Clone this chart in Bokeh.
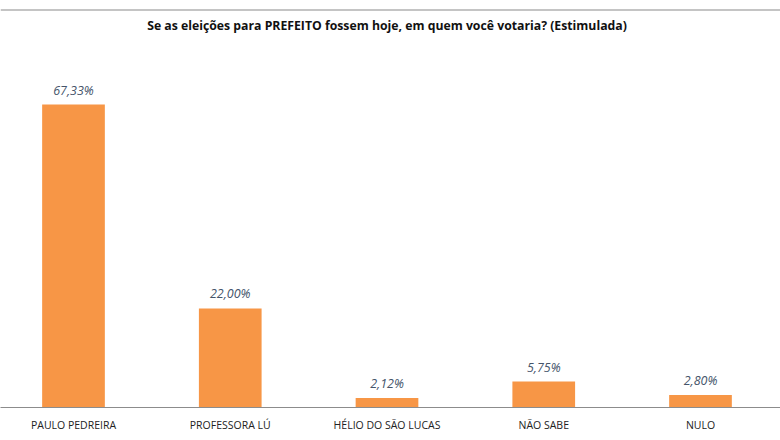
from bokeh.plotting import figure
from bokeh.models import ColumnDataSource, Range1d, FixedTicker, Label, Span, LabelSet
from bokeh.core.properties import value
from bokeh.embed import file_html
from bokeh.resources import INLINE

categories = ["PAULO PEDREIRA", "PROFESSORA LÚ", "HÉLIO DO SÃO LUCAS", "NÃO SABE", "NULO"]
values = [67.33, 22.00, 2.12, 5.75, 2.80]
value_labels = ["67,33%", "22,00%", "2,12%", "5,75%", "2,80%"]
title_text = "Se as eleições para PREFEITO fossem hoje, em quem você votaria? (Estimulada)"

W, H = 780, 440
xs = list(range(len(categories)))
src = ColumnDataSource(dict(x=xs, top=values, lab=value_labels))

p = figure(width=W, height=H, output_backend="svg", toolbar_location=None,
           x_range=Range1d(-0.4657, 4.5104), y_range=Range1d(0, 90.44),
           min_border_left=0, min_border_right=0, min_border_top=0, min_border_bottom=33)
p.background_fill_color = "white"
p.border_fill_color = "white"
p.outline_line_color = None
p.grid.grid_line_color = None
p.yaxis.visible = False

p.vbar(x="x", top="top", width=0.40, bottom=0, source=src,
       fill_color="#F79646", line_color=None)

labels = LabelSet(x="x", y="top", text="lab", source=src, text_align="center",
                  text_baseline="bottom", y_offset=6, text_font=value("Open Sans"),
                  text_font_style="italic", text_font_size="12.5px", text_color="#44546A")
p.add_layout(labels)

ax = p.xaxis[0]
ax.ticker = FixedTicker(ticks=xs)
ax.major_label_overrides = {i: c for i, c in zip(xs, categories)}
ax.major_tick_line_color = None
ax.major_tick_out = 0
ax.major_tick_in = 0
ax.minor_tick_line_color = None
ax.minor_tick_out = 0
ax.axis_line_color = "#8c8c8c"
ax.axis_line_width = 1
ax.major_label_standoff = 10
ax.major_label_text_font = "Open Sans"
ax.major_label_text_font_size = "10.5px"
ax.major_label_text_color = "#222222"

p.add_layout(Label(x=2.0, y=84.89, text=title_text, text_align="center",
                   text_baseline="middle", text_font="Open Sans",
                   text_font_style="bold", text_font_size="12.25px",
                   text_color="#111111"))

p.add_layout(Span(location=88.33, dimension="width", line_color="#c4c4c4", line_width=2))

open("out.html", "w").write(file_html(p, INLINE))
